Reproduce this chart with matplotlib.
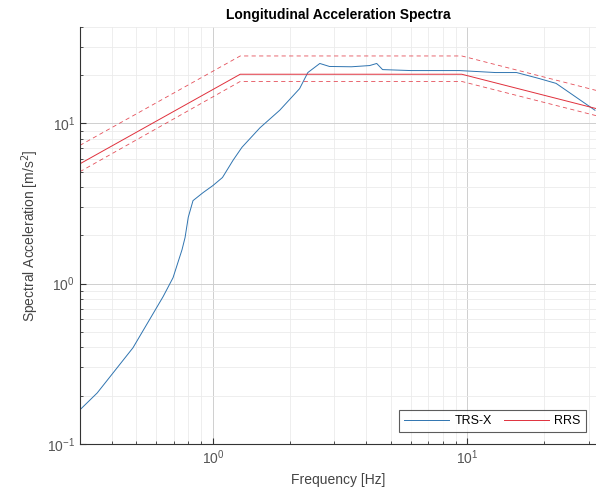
import matplotlib
matplotlib.use("Agg")
import matplotlib.pyplot as plt

plt.rcParams['font.family'] = ['Liberation Sans', 'DejaVu Sans']

trs_freq = [0.30, 0.351, 0.485, 0.637, 0.697, 0.756, 0.777, 0.80, 0.835, 0.914, 1.0,
            1.09, 1.2, 1.30, 1.53, 1.83, 2.19, 2.36, 2.63, 2.87, 3.5, 4.13, 4.40,
            4.64, 6.0, 9.3, 12.9, 15.6, 19.1, 22.3, 31.7]
trs_acc = [0.163, 0.208, 0.398, 0.83, 1.09, 1.63, 1.94, 2.6, 3.3, 3.7, 4.1,
           4.6, 5.9, 7.1, 9.4, 12.1, 16.5, 20.8, 23.7, 22.7, 22.6, 23.0, 23.7,
           21.7, 21.4, 21.4, 20.8, 20.8, 19.1, 17.8, 12.1]

# RRS (required response spectrum) and its tolerance band
rrs_freq = [0.30, 1.28, 9.5, 32.0]
rrs_acc = [5.6, 20.3, 20.3, 12.4]
rrs_upper = [7.3, 26.4, 26.4, 16.1]
rrs_lower = [5.0, 18.3, 18.3, 11.2]

blue = '#2f74b0'
red = '#e0303c'

fig = plt.figure(figsize=(5.96, 5.01), dpi=100)
ax = fig.add_axes([0.134, 0.114, 0.866, 0.832])

ax.loglog(trs_freq, trs_acc, color=blue, lw=0.7, label='TRS-X')
ax.loglog(rrs_freq, rrs_acc, color=red, lw=0.7, label='RRS')
ax.loglog(rrs_freq, rrs_upper, color=red, lw=0.6, ls=(0, (5, 4)), alpha=0.85)
ax.loglog(rrs_freq, rrs_lower, color=red, lw=0.6, ls=(0, (5, 4)), alpha=0.85)

ax.set_xlim(0.3, 32)
ax.set_ylim(0.1, 40)

# major and minor grid, MATLAB-like
ax.grid(True, which='major', color='#cfcfcf', lw=0.7)
ax.grid(True, which='minor', color='#ebebeb', lw=0.6)
ax.set_axisbelow(True)

ax.spines['top'].set_visible(False)
ax.spines['right'].set_visible(False)
ax.spines['left'].set_color('#333333')
ax.spines['bottom'].set_color('#333333')
ax.tick_params(which='both', direction='in', colors='#333333', labelsize=10)
ax.tick_params(which='major', length=4)
ax.tick_params(which='minor', length=2)
for lab in ax.get_xticklabels() + ax.get_yticklabels():
    lab.set_color('#555555')

ax.set_title('Longitudinal Acceleration Spectra', fontsize=10, fontweight='bold')
ax.set_xlabel('Frequency [Hz]', fontsize=10, color='#444444')
ax.set_ylabel('Spectral Acceleration [m/s$^2$]', fontsize=10, color='#444444')

leg = ax.legend(loc='lower right', bbox_to_anchor=(0.98, 0.028), ncol=2,
                fontsize=9, frameon=True, fancybox=False, borderaxespad=0,
                handlelength=3.6, columnspacing=1.0, handletextpad=0.4)
leg.get_frame().set_edgecolor('#333333')
leg.get_frame().set_linewidth(0.8)

fig.savefig('out.png', dpi=100)
